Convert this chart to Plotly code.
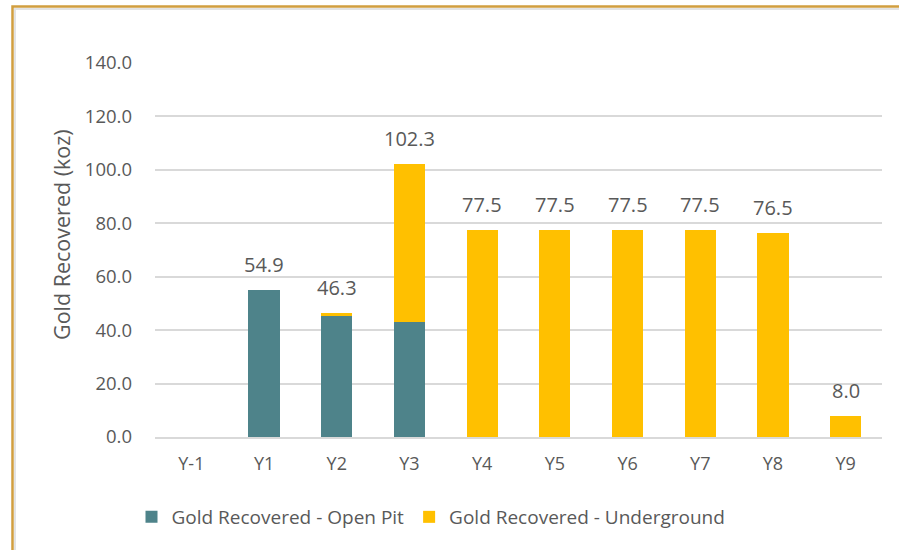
import plotly.graph_objects as go

categories = ["Y-1", "Y1", "Y2", "Y3", "Y4", "Y5", "Y6", "Y7", "Y8", "Y9"]
open_pit = [0, 54.9, 45.3, 43.0, 0, 0, 0, 0, 0, 0]
underground = [0, 0, 1.0, 59.3, 77.5, 77.5, 77.5, 77.5, 76.5, 8.0]
totals = [round(a + b, 1) for a, b in zip(open_pit, underground)]

TEAL = "#4E838A"
GOLD = "#FFC000"
TXT = "#595959"
FONT = "Open Sans, Lato, sans-serif"

fig = go.Figure()
fig.add_trace(go.Bar(x=categories, y=open_pit, name="Gold Recovered - Open Pit",
                     marker=dict(color=TEAL, line=dict(width=0)), width=0.43))
fig.add_trace(go.Bar(x=categories, y=underground, name="Gold Recovered - Underground",
                     marker=dict(color=GOLD, line=dict(width=0)), width=0.43))

for c, t in zip(categories, totals):
    if t > 0:
        fig.add_annotation(x=c, y=t, text=f"{t:.1f}", showarrow=False,
                           yanchor="bottom", yshift=10,
                           font=dict(size=20, color=TXT, family=FONT))

# body margin is removed via post_script, so page px == figure px
W, H = 899, 550
L, R, T, B = 155, 899 - 882, 63, 550 - 437
pw, ph = W - L - R, H - T - B

def px(x):
    return (x - L) / pw

def py(y):
    return (H - B - y) / ph

# y-axis title (placed slightly above plot centre, as in the reference)
fig.add_annotation(xref="paper", yref="paper", x=px(62), y=py(235),
                   text="Gold Recovered (koz)", textangle=-90, showarrow=False,
                   xanchor="center", yanchor="middle",
                   font=dict(size=21.5, color=TXT, family=FONT))

# frame border (orange) with a faint inner shadow
fig.add_shape(type="rect", xref="paper", yref="paper",
              x0=px(15), x1=px(910), y0=py(560), y1=py(9),
              line=dict(color="#E3E3E3", width=2), layer="below")
fig.add_shape(type="rect", xref="paper", yref="paper",
              x0=px(12.5), x1=px(910), y0=py(560), y1=py(6.5),
              line=dict(color="#D19E3F", width=2.5), layer="below")

fig.update_layout(
    width=W, height=H,
    barmode="stack",
    margin=dict(l=L, r=R, t=T, b=B),
    paper_bgcolor="white", plot_bgcolor="white",
    font=dict(family=FONT, color=TXT, size=18),
    legend=dict(orientation="h", x=px(431), xanchor="center",
                y=py(517), yanchor="middle",
                font=dict(size=19, color=TXT, family=FONT),
                itemwidth=30, traceorder="normal"),
    xaxis=dict(showgrid=False, showline=True, linecolor="#D9D9D9", linewidth=1.5,
               ticks="", tickfont=dict(size=18, color=TXT), ticklabelstandoff=10,
               range=[-0.5, 9.5]),
    yaxis=dict(range=[0, 140], dtick=20, tickformat=".1f", showgrid=True,
               gridcolor="#D9D9D9", gridwidth=1.5, zeroline=False,
               ticks="", tickfont=dict(size=18.5, color=TXT), ticklabelstandoff=22),
)

fig.write_html("out.html", config={"displayModeBar": False},
               post_script="document.body.style.margin='0';document.body.style.overflow='hidden';")
